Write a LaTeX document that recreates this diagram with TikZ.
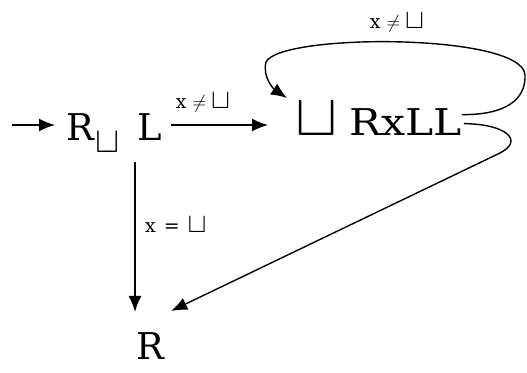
\RequirePackage{fix-cm}
\documentclass[tikz,border=0pt]{standalone}
\usepackage{graphicx}
\usepackage{fontspec}
\setmainfont{DejaVu Serif}
\usetikzlibrary{arrows.meta}
% blank symbol, scaled to sit well beside the serif text
\newcommand\blanksym[2]{\scalebox{#1}[#2]{$\sqcup$}}
\begin{document}
\begin{tikzpicture}[x=1bp,y=-1bp,
  state/.style={inner sep=0pt, anchor=base west, font=\fontsize{37}{42}\selectfont},
  cond/.style={inner sep=0pt, font=\fontsize{19}{22}\selectfont},
  edge/.style={line width=1.4bp, -{Latex[length=16bp,width=13bp]}}]
\useasboundingbox (0,0) rectangle (527,372);

% states
\node[state] (A) at (66,140) {R\hspace{2bp}\raisebox{-12bp}{\fontsize{28}{30}\selectfont\blanksym{1.3}{1.3}}\hspace{17bp}L};
\node[state] (B) at (295,135) {\blanksym{1.72}{1.6}\hspace{12bp}\scalebox{1.15}[1]{RxLL}};
\node[state] (C) at (136,359) {R};

% conditions
\node[cond] (c1) at (203,103) {x\hspace{6bp}$\neq$\hspace{5bp}\blanksym{1.5}{1.45}};
\node[cond] (c2) at (397,23) {x\hspace{6bp}$\neq$\hspace{5bp}\blanksym{1.5}{1.45}};
\node[cond, anchor=west] (c3) at (145,225) {x\hspace{8bp}=\hspace{8bp}\blanksym{1.5}{1.45}};

% transitions
\coordinate (start) at (12,125);
\draw[edge] (start) -- ([xshift=-11bp]A.west |- start);
\draw[edge] ([xshift=9bp]A.east |- start) -- ([xshift=-27bp]B.west |- start);
\draw[edge] ([xshift=-1bp,yshift=-10bp]A.south -| C.west) -- ([xshift=-1bp,yshift=20bp]C.north -| C.west);
\draw[edge] ([yshift=4bp]B.east) .. controls (505,115) and (526,100) .. (525,75)
  .. controls (523,33) and (280,33) .. (266,62)
  .. controls (262,78) and (275,90) .. (287,98);
\draw[edge] ([xshift=2bp,yshift=-5bp]B.east) .. controls (505,124) and (525,140) .. (500,153)
  -- ([xshift=7bp,yshift=21bp]C.north east);
\end{tikzpicture}
\end{document}
